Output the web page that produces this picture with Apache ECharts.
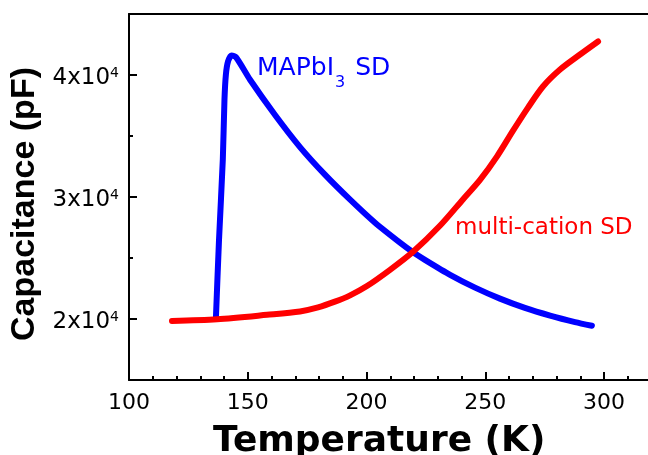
<!DOCTYPE html>
<html>
<head>
<meta charset="utf-8">
<script src="https://cdn.jsdelivr.net/npm/echarts@6/dist/echarts.min.js"></script>
<style>
  html, body { margin: 0; padding: 0; background: #fff; }
  #chart { width: 648px; height: 455px; }
</style>
</head>
<body>
<div id="chart"></div>
<script>
// MAPbI3 SD の温度 (K)
const mapTemp = [136.6, 137.9, 139.5, 140.2, 140.8, 141.7, 143.2, 145.1, 150.9, 161.5, 172.0, 182.5, 193.1, 203.6, 214.1, 219.6, 224.6, 235.2, 245.7, 256.2, 266.7, 277.3, 287.8, 294.9];
// MAPbI3 SD の容量 (pF)
const mapCap = [20090, 26490, 33060, 37990, 40040, 41110, 41600, 41440, 39630, 36720, 34090, 31830, 29780, 27890, 26260, 25470, 24850, 23620, 22570, 21670, 20910, 20280, 19750, 19450];

// multi-cation SD の温度 (K)
const mcTemp = [118.1, 137.1, 158.1, 172.0, 179.6, 186.7, 193.1, 200.2, 209.9, 219.6, 230.9, 240.6, 247.8, 254.9, 261.7, 268.0, 274.3, 281.5, 289.9, 297.5];
// multi-cation SD の容量 (pF)
const mcCap = [19840, 19980, 20340, 20620, 20950, 21420, 21940, 22700, 24030, 25510, 27640, 29800, 31400, 33310, 35440, 37330, 39060, 40450, 41680, 42750];

// 目盛りラベルを出す値
const xLabelValues = [100, 150, 200, 250, 300];
const yLabelValues = [20000, 30000, 40000];

// 曲線ラベルの文字と置き場所（データ座標）
const curveLabelTexts = ['{a|MAPbI}{b|3}{a| SD}', '{c|multi-cation SD}'];
const curveLabelTemps = [153.9, 237.3];
const curveLabelCaps = [40560, 27450];
const curveLabelColors = ['#0000ff', '#ff0000'];

const chart = echarts.init(document.querySelector('#chart'));

const axisLine = { show: true, lineStyle: { color: '#000', width: 2 } };
const tickStyle = { color: '#000', width: 2 };

// 曲線ラベル用の系列
const labelSeries = curveLabelTexts.map((text, i) => ({
  type: 'scatter',
  silent: true,
  symbolSize: 0,
  itemStyle: { opacity: 1 },
  data: [[curveLabelTemps[i], curveLabelCaps[i]]],
  label: {
    show: true,
    position: 'right',
    distance: 0,
    opacity: 1,
    formatter: text,
    rich: {
      a: { fontFamily: 'DejaVu Sans', fontSize: 25, lineHeight: 46, color: curveLabelColors[i] },
      b: { fontFamily: 'DejaVu Sans', fontSize: 16, lineHeight: 16, verticalAlign: 'bottom', padding: [0, 2, 0, 1], color: curveLabelColors[i] },
      c: { fontFamily: 'DejaVu Sans', fontSize: 23, lineHeight: 30, color: curveLabelColors[i] }
    }
  }
}));

const option = {
  animation: false,
  grid: { left: 129, right: -3.5, top: 14, bottom: 75, containLabel: false, outerBoundsMode: 'none' },

  xAxis: [
    {
      // 主軸：10 K ごとの小目盛りとラベル
      type: 'value', min: 100, max: 320, interval: 10, position: 'bottom',
      axisLine: axisLine,
      axisTick: { show: true, inside: true, length: 4, lineStyle: tickStyle },
      axisLabel: {
        customValues: xLabelValues, margin: 12, color: '#000',
        fontFamily: 'DejaVu Sans', fontSize: 22
      },
      splitLine: { show: false },
      name: 'Temperature (K)', nameLocation: 'middle', nameGap: 44,
      nameTextStyle: {
        fontFamily: 'DejaVu Sans', fontWeight: 'bold', fontSize: 36, color: '#000',
        padding: [0, 22, 0, 0]
      }
    },
    {
      // 50 K ごとの長い目盛り
      type: 'value', min: 100, max: 320, position: 'bottom',
      axisLine: { show: false },
      axisTick: { show: true, inside: true, length: 8, customValues: xLabelValues, lineStyle: tickStyle },
      axisLabel: { show: false },
      splitLine: { show: false }
    },
    {
      // 上の枠線
      type: 'value', min: 100, max: 320, position: 'top',
      axisLine: axisLine,
      axisTick: { show: false },
      axisLabel: { show: false },
      splitLine: { show: false }
    }
  ],

  yAxis: [
    {
      type: 'value', min: 15000, max: 45000, interval: 5000, position: 'left',
      axisLine: axisLine,
      axisTick: { show: true, inside: true, length: 4, lineStyle: tickStyle },
      axisLabel: {
        customValues: yLabelValues, margin: 10, padding: [6, 0, 0, 0],
        formatter: v => `{m|${v / 10000}x10}{s|4}`,
        rich: {
          m: { fontFamily: 'DejaVu Sans', fontSize: 23, lineHeight: 23, color: '#000' },
          s: { fontFamily: 'DejaVu Sans', fontSize: 14, lineHeight: 14, verticalAlign: 'top', color: '#000' }
        }
      },
      splitLine: { show: false },
      name: 'Capacitance (pF)', nameLocation: 'middle', nameGap: 87,
      nameTextStyle: {
        fontFamily: 'Liberation Sans', fontWeight: 'bold', fontSize: 34, color: '#000',
        padding: [0, 14, 0, 0]
      }
    },
    {
      // 1x10^4 ごとの長い目盛り
      type: 'value', min: 15000, max: 45000, position: 'left',
      axisLine: { show: false },
      axisTick: { show: true, inside: true, length: 8, customValues: yLabelValues, lineStyle: tickStyle },
      axisLabel: { show: false },
      splitLine: { show: false }
    }
  ],

  series: [
    {
      name: 'MAPbI3 SD',
      type: 'line',
      data: mapTemp.map((t, i) => [t, mapCap[i]]),
      symbol: 'none',
      smooth: 0.25,
      lineStyle: { color: '#0000ff', width: 6, cap: 'round', join: 'round' },
      z: 2
    },
    {
      name: 'multi-cation SD',
      type: 'line',
      data: mcTemp.map((t, i) => [t, mcCap[i]]),
      symbol: 'none',
      smooth: 0.3,
      lineStyle: { color: '#ff0000', width: 6, cap: 'round', join: 'round' },
      z: 3
    },
    ...labelSeries
  ]
};

chart.setOption(option);
</script>
</body>
</html>
